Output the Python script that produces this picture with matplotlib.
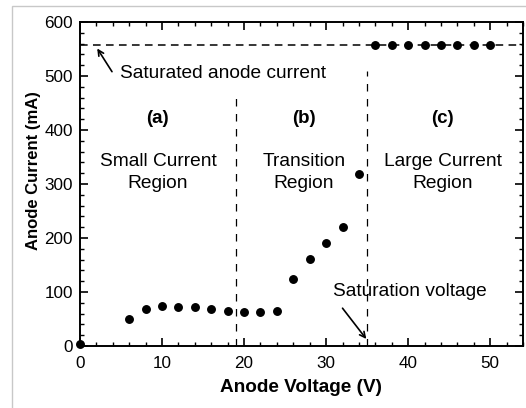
import matplotlib
matplotlib.use('Agg')
import matplotlib.pyplot as plt
from matplotlib.patches import Rectangle
from matplotlib.ticker import MultipleLocator

plt.rcParams['font.family'] = ['Liberation Sans', 'DejaVu Sans']

voltage = [0, 6, 8, 10, 12, 14, 16, 18, 20, 22, 24, 26, 28, 30, 32, 34,
           36, 38, 40, 42, 44, 46, 48, 50]
current = [4, 50, 69, 75, 73, 72, 69, 65, 63, 63, 65, 125, 162, 190, 221, 318,
           557, 557, 557, 557, 557, 557, 557, 557]
saturated_current = 557
region_bounds = [19, 35]
region_tops = [463, 509]
region_tags = ['(a)', '(b)', '(c)']
region_names = ['Small Current\nRegion', 'Transition\nRegion', 'Large Current\nRegion']
region_centers = [9.5, 27.3, 44.2]

fig = plt.figure(figsize=(5.26, 4.08), dpi=100)
# light grey frame of the original figure
fig.patches.append(Rectangle((12 / 526, -0.1), 1.2, 1 - 6 / 408 + 0.1,
                             transform=fig.transFigure, fill=False,
                             edgecolor='#c8c8c8', linewidth=1.0))
ax = fig.add_axes([80 / 526, 62 / 408, 443 / 526, 324 / 408])

ax.axhline(saturated_current, color='black', linestyle=(0, (5, 3.5)), linewidth=1.1, zorder=1)
for xb, top in zip(region_bounds, region_tops):
    ax.plot([xb, xb], [0, top], color='black', linestyle=(0, (6, 6)), linewidth=0.9, zorder=1)

ax.plot(voltage, current, 'o', color='black', markersize=5.4, zorder=3, clip_on=False)

for tag, name, xc in zip(region_tags, region_names, region_centers):
    ax.text(xc, 422, tag, ha='center', va='center', fontsize=13.5, fontweight='bold')
    ax.text(xc, 322, name, ha='center', va='center', fontsize=13.8, linespacing=1.4)

# saturated current label + arrow
ax.text(4.9, 505, 'Saturated anode current', fontsize=13.8, va='center', ha='left')
ax.annotate('', xy=(2.1, 551), xytext=(3.9, 508),
            arrowprops=dict(arrowstyle='->', color='black', lw=1.2, shrinkA=0, shrinkB=0))

# saturation voltage label + arrow
ax.text(30.9, 101, 'Saturation voltage', fontsize=13.8, va='center', ha='left')
ax.annotate('', xy=(34.9, 13), xytext=(32.0, 70),
            arrowprops=dict(arrowstyle='->', color='black', lw=1.2, shrinkA=0, shrinkB=0))

ax.set_xlim(0, 54)
ax.set_ylim(0, 600)
ax.xaxis.set_major_locator(MultipleLocator(10))
ax.xaxis.set_minor_locator(MultipleLocator(2))
ax.yaxis.set_major_locator(MultipleLocator(100))
ax.yaxis.set_minor_locator(MultipleLocator(20))
ax.tick_params(which='both', direction='in', top=True, right=True, labelsize=12.3)
ax.tick_params(axis='x', which='major', pad=7)
ax.tick_params(axis='y', which='major', pad=5)
ax.tick_params(which='major', length=6, width=1.2)
ax.tick_params(which='minor', length=3, width=1.0)
for s in ax.spines.values():
    s.set_linewidth(1.4)

ax.set_xlabel('Anode Voltage (V)', fontsize=13.7, fontweight='bold', labelpad=6)
ax.set_ylabel('Anode Current (mA)', fontsize=12, fontweight='bold')
ax.yaxis.set_label_coords(-0.089, 0.543)

fig.savefig('out.png', dpi=100)
